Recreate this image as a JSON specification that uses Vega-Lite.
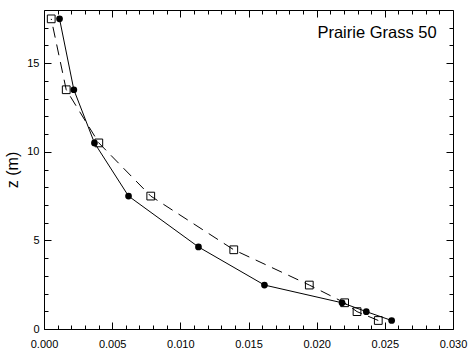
{
  "$schema": "https://vega.github.io/schema/vega-lite/v6.json",
  "autosize": "none",
  "width": 409,
  "height": 319,
  "padding": {"left": 44, "top": 10, "right": 18, "bottom": 20},
  "background": "white",
  "config": {
    "view": {"stroke": null},
    "font": "Liberation Sans",
    "axis": {
      "domainColor": "black",
      "tickColor": "black",
      "labelColor": "black",
      "titleColor": "black",
      "grid": false,
      "labelFont": "Liberation Sans",
      "titleFont": "Liberation Sans",
      "labelFontSize": 11,
      "titleFontSize": 16,
      "titleFontWeight": "normal",
      "domainWidth": 1,
      "tickWidth": 1
    }
  },
  "datasets": {
    "obs": [
      {"x": 0.00114, "z": 17.5},
      {"x": 0.00219, "z": 13.5},
      {"x": 0.0037, "z": 10.5},
      {"x": 0.0062, "z": 7.5},
      {"x": 0.01133, "z": 4.63},
      {"x": 0.01617, "z": 2.48},
      {"x": 0.02186, "z": 1.48},
      {"x": 0.02364, "z": 0.98},
      {"x": 0.0255, "z": 0.48}
    ],
    "model": [
      {"x": 0.00053, "z": 17.5},
      {"x": 0.00163, "z": 13.5},
      {"x": 0.00402, "z": 10.5},
      {"x": 0.00783, "z": 7.5},
      {"x": 0.01392, "z": 4.47},
      {"x": 0.01946, "z": 2.48},
      {"x": 0.02205, "z": 1.48},
      {"x": 0.02296, "z": 0.98},
      {"x": 0.02452, "z": 0.48}
    ],
    "label": [
      {"x": 0.0288, "z": 16.4, "text": "Prairie Grass 50"}
    ]
  },
  "resolve": {"axis": {"x": "independent", "y": "independent"}},
  "layer": [
    {
      "data": {"name": "obs"},
      "mark": {"type": "line", "color": "black", "strokeWidth": 1},
      "encoding": {
        "x": {"field": "x", "type": "quantitative",
          "scale": {"domain": [0, 0.03], "nice": false, "zero": false},
          "axis": {"orient": "bottom", "values": [0, 0.005, 0.01, 0.015, 0.02, 0.025, 0.03], "format": ".3f", "tickSize": -7, "labelPadding": 16, "title": null, "labelFlush": false}},
        "y": {"field": "z", "type": "quantitative",
          "scale": {"domain": [0, 18], "nice": false, "zero": false},
          "axis": {"orient": "left", "values": [0, 5, 10, 15], "tickSize": -7, "labelPadding": 12, "title": "z (m)", "titlePadding": 6}},
        "order": {"field": "z", "type": "quantitative"}
      }
    },
    {
      "data": {"name": "obs"},
      "mark": {"type": "point", "shape": "circle", "filled": true, "color": "black", "size": 45, "opacity": 1},
      "encoding": {
        "x": {"field": "x", "type": "quantitative",
          "scale": {"domain": [0, 0.03], "nice": false, "zero": false},
          "axis": {"orient": "top", "values": [0, 0.005, 0.01, 0.015, 0.02, 0.025, 0.03], "tickSize": -7, "labels": false, "title": null}},
        "y": {"field": "z", "type": "quantitative",
          "scale": {"domain": [0, 18], "nice": false, "zero": false},
          "axis": {"orient": "right", "values": [0, 5, 10, 15], "tickSize": -7, "labels": false, "title": null}}
      }
    },
    {
      "data": {"name": "model"},
      "mark": {"type": "line", "color": "black", "strokeWidth": 1, "strokeDash": [11, 7]},
      "encoding": {
        "x": {"field": "x", "type": "quantitative",
          "scale": {"domain": [0, 0.03], "nice": false, "zero": false},
          "axis": {"orient": "bottom", "values": [0.001, 0.002, 0.003, 0.004, 0.006, 0.007, 0.008, 0.009, 0.011, 0.012, 0.013, 0.014, 0.016, 0.017, 0.018, 0.019, 0.021, 0.022, 0.023, 0.024, 0.026, 0.027, 0.028, 0.029], "tickSize": -4, "labels": false, "domain": false, "title": null}},
        "y": {"field": "z", "type": "quantitative",
          "scale": {"domain": [0, 18], "nice": false, "zero": false},
          "axis": {"orient": "left", "values": [1, 2, 3, 4, 6, 7, 8, 9, 11, 12, 13, 14, 16, 17], "tickSize": -4, "labels": false, "domain": false, "title": null}},
        "order": {"field": "z", "type": "quantitative"}
      }
    },
    {
      "data": {"name": "model"},
      "mark": {"type": "point", "shape": "square", "filled": false, "color": "black", "size": 60, "strokeWidth": 1, "opacity": 1},
      "encoding": {
        "x": {"field": "x", "type": "quantitative",
          "scale": {"domain": [0, 0.03], "nice": false, "zero": false},
          "axis": {"orient": "top", "values": [0.001, 0.002, 0.003, 0.004, 0.006, 0.007, 0.008, 0.009, 0.011, 0.012, 0.013, 0.014, 0.016, 0.017, 0.018, 0.019, 0.021, 0.022, 0.023, 0.024, 0.026, 0.027, 0.028, 0.029], "tickSize": -4, "labels": false, "domain": false, "title": null}},
        "y": {"field": "z", "type": "quantitative",
          "scale": {"domain": [0, 18], "nice": false, "zero": false},
          "axis": {"orient": "right", "values": [1, 2, 3, 4, 6, 7, 8, 9, 11, 12, 13, 14, 16, 17], "tickSize": -4, "labels": false, "domain": false, "title": null}}
      }
    },
    {
      "data": {"name": "label"},
      "mark": {"type": "text", "align": "right", "baseline": "alphabetic", "fontSize": 16.5, "font": "Liberation Sans", "color": "black"},
      "encoding": {
        "x": {"field": "x", "type": "quantitative", "scale": {"domain": [0, 0.03], "nice": false, "zero": false}, "axis": null},
        "y": {"field": "z", "type": "quantitative", "scale": {"domain": [0, 18], "nice": false, "zero": false}, "axis": null},
        "text": {"field": "text"}
      }
    }
  ]
}
